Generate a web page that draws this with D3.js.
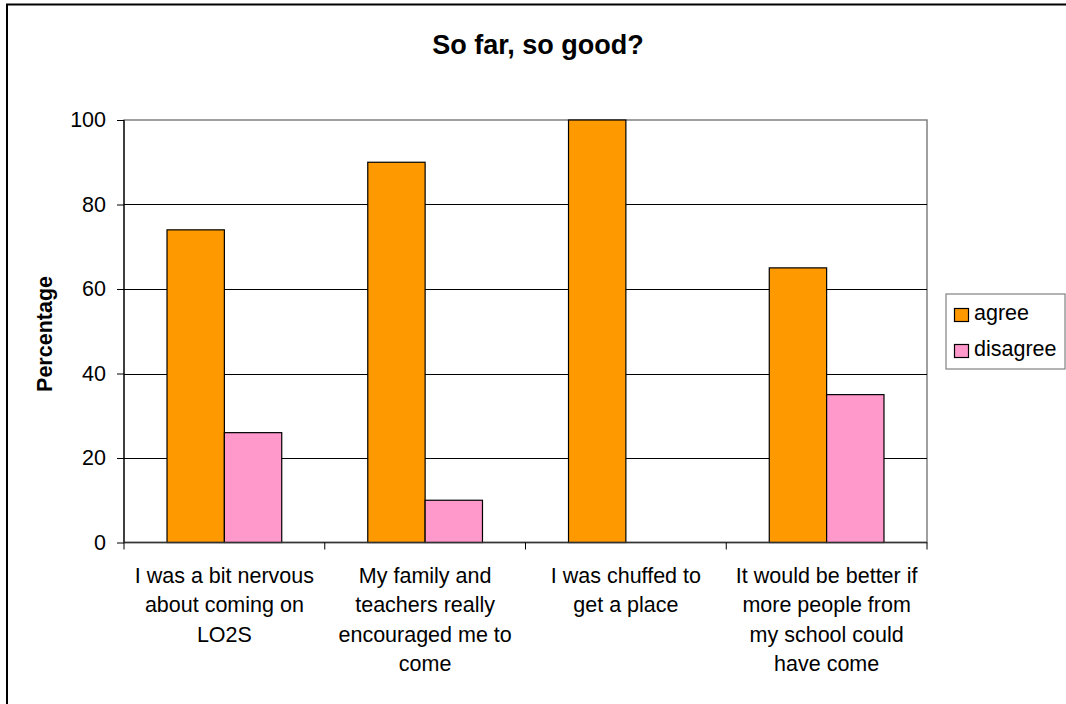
<!DOCTYPE html>
<html>
<head>
<meta charset="utf-8">
<script src="https://cdn.jsdelivr.net/npm/d3@7"></script>
<style>
  html, body { margin: 0; padding: 0; background: #fff; overflow: hidden; }
  svg { display: block; }
  svg text { font-family: "Liberation Sans", Arial, sans-serif; fill: #000; }
</style>
</head>
<body>
<div id="chart"></div>
<script>
// chart data
var categories = ["nervous", "encouraged", "chuffed", "better"];
var categoryLines = [
  ["I was a bit nervous", "about coming on", "LO2S"],
  ["My family and", "teachers really", "encouraged me to", "come"],
  ["I was chuffed to", "get a place"],
  ["It would be better if", "more people from", "my school could", "have come"]
];
var seriesNames = ["agree", "disagree"];
var agreeValues = [74, 90, 100, 65];
var disagreeValues = [26, 10, 0, 35];
var seriesColors = ["#FF9900", "#FF99CC"];
var yTicks = [0, 20, 40, 60, 80, 100];

var W = 1066, H = 704;
var plot = { left: 124, right: 927, top: 120, bottom: 542.5 };

var svg = d3.select("#chart").append("svg")
  .attr("width", W).attr("height", H);

// outer chart border: only the top and left edges are inside the picture
svg.append("path")
  .attr("d", "M7," + (H + 10) + "V4.5H" + (W + 10))
  .attr("fill", "none")
  .attr("stroke", "#000").attr("stroke-width", 2);

var x = d3.scaleBand().domain(categories).range([plot.left, plot.right]).padding(0);
var y = d3.scaleLinear().domain([0, 100]).range([plot.bottom, plot.top]);
// gap width 150%: two bars + 1.5 bar widths per category
var barW = x.bandwidth() / 3.5;
var x1 = d3.scaleBand().domain(seriesNames).range([0.75 * barW, 2.75 * barW]).padding(0);

// plot area border
svg.append("rect")
  .attr("x", plot.left).attr("y", plot.top)
  .attr("width", plot.right - plot.left).attr("height", plot.bottom - plot.top)
  .attr("fill", "#fff").attr("stroke", "#808080").attr("stroke-width", 1.5);

// gridlines
svg.append("g").selectAll("line")
  .data(yTicks.filter(function(d) { return d > 0 && d < 100; }))
  .enter().append("line")
  .attr("x1", plot.left).attr("x2", plot.right)
  .attr("y1", function(d) { return Math.round(y(d)) + 0.5; })
  .attr("y2", function(d) { return Math.round(y(d)) + 0.5; })
  .attr("stroke", "#000").attr("stroke-width", 1);

// bars
var series = [agreeValues, disagreeValues];
series.forEach(function(vals, s) {
  var rows = vals.map(function(v, i) { return { cat: categories[i], value: v }; })
    .filter(function(d) { return d.value > 0; });
  svg.append("g").selectAll("rect")
    .data(rows)
    .enter().append("rect")
    .attr("x", function(d) { return x(d.cat) + x1(seriesNames[s]); })
    .attr("y", function(d) { return y(d.value); })
    .attr("width", x1.bandwidth())
    .attr("height", function(d) { return y(0) - y(d.value); })
    .attr("fill", seriesColors[s])
    .attr("stroke", "#000").attr("stroke-width", 1.2);
});

// y axis
var yAxis = d3.axisLeft(y).tickValues(yTicks).tickSize(7).tickPadding(11).tickFormat(d3.format("d"));
var gy = svg.append("g").attr("transform", "translate(" + plot.left + ",0)").call(yAxis);
gy.select(".domain").attr("stroke", "#000").attr("stroke-width", 1.2).attr("d", "M0," + plot.top + "V" + plot.bottom);
gy.selectAll(".tick line").attr("stroke", "#000");
gy.selectAll(".tick text").attr("font-size", 21.5).attr("fill", "#000")
  .attr("font-family", "Liberation Sans, Arial, sans-serif");

// x axis line and boundary ticks
svg.append("line")
  .attr("x1", plot.left).attr("x2", plot.right)
  .attr("y1", plot.bottom).attr("y2", plot.bottom)
  .attr("stroke", "#333").attr("stroke-width", 1.5);
var bounds = categories.map(function(c) { return x(c); }).concat([plot.right]);
svg.append("g").selectAll("line")
  .data(bounds).enter().append("line")
  .attr("x1", function(d) { return d; }).attr("x2", function(d) { return d; })
  .attr("y1", plot.bottom).attr("y2", plot.bottom + 7)
  .attr("stroke", "#000");

// category labels
var labels = svg.append("g").selectAll("text")
  .data(categories).enter().append("text")
  .attr("text-anchor", "middle")
  .attr("font-size", 21.5)
  .attr("x", function(c) { return x(c) + x.bandwidth() / 2; })
  .attr("y", 583);
labels.selectAll("tspan")
  .data(function(c, i) { return categoryLines[i].map(function(t) { return { cat: c, text: t }; }); })
  .enter().append("tspan")
  .attr("x", function(d) { return x(d.cat) + x.bandwidth() / 2; })
  .attr("dy", function(d, i) { return i === 0 ? 0 : 29.4; })
  .text(function(d) { return d.text; });

// title
svg.append("text")
  .attr("x", 538).attr("y", 54)
  .attr("text-anchor", "middle")
  .attr("font-size", 27).attr("font-weight", "bold")
  .text("So far, so good?");

// y axis title
svg.append("text")
  .attr("transform", "translate(52,334) rotate(-90)")
  .attr("text-anchor", "middle")
  .attr("font-size", 21.5).attr("font-weight", "bold")
  .text("Percentage");

// legend
var legend = svg.append("g");
legend.append("rect")
  .attr("x", 946).attr("y", 294).attr("width", 119).attr("height", 75)
  .attr("fill", "#fff").attr("stroke", "#808080").attr("stroke-width", 1.2);
var items = legend.selectAll("g.item").data(seriesNames).enter().append("g").attr("class", "item")
  .attr("transform", function(d, i) { return "translate(0," + (i * 36) + ")"; });
items.append("rect")
  .attr("x", 954.5).attr("y", 308.5).attr("width", 14).attr("height", 13)
  .attr("fill", function(d, i) { return seriesColors[i]; })
  .attr("stroke", "#000").attr("stroke-width", 1.2);
items.append("text")
  .attr("x", 974).attr("y", 319.5)
  .attr("font-size", 21.5)
  .text(function(d) { return d; });
</script>
</body>
</html>
